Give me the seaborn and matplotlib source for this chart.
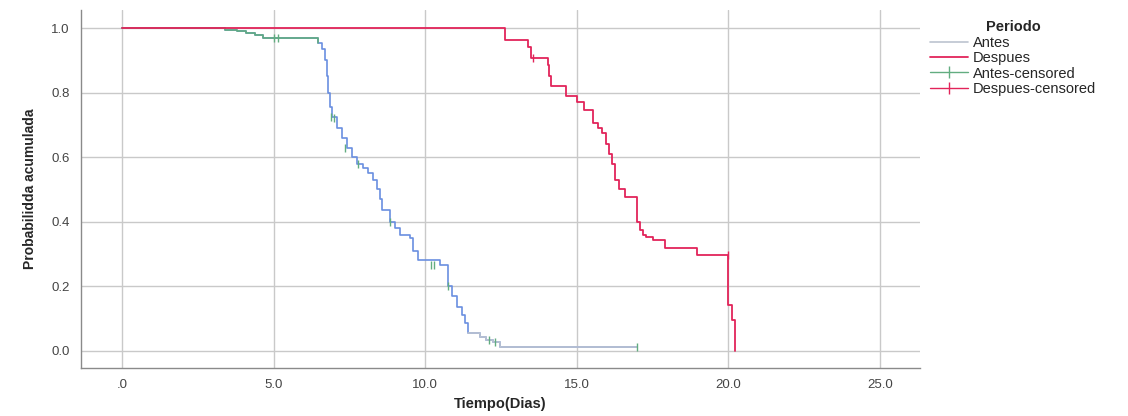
import numpy as np
import matplotlib
matplotlib.use("Agg")
import matplotlib.pyplot as plt
from matplotlib.lines import Line2D
import seaborn as sns

# Kaplan-Meier style curves (time in days, cumulative probability)
antes_t = [0, 3.4, 3.8, 4.1, 4.4, 4.65, 6.45, 6.6, 6.7, 6.75, 6.8, 6.85, 6.93,
           7.09, 7.25, 7.42, 7.6, 7.75, 7.95, 8.1, 8.28, 8.4, 8.5, 8.58, 8.84,
           9.0, 9.17, 9.5, 9.6, 9.76, 10.5, 10.75, 10.9, 11.05, 11.2, 11.3,
           11.4, 11.8, 12.0, 12.24, 12.47, 17.0]
antes_s = [1.0, 0.995, 0.99, 0.985, 0.978, 0.968, 0.955, 0.935, 0.90, 0.85,
           0.80, 0.755, 0.725, 0.69, 0.66, 0.63, 0.60, 0.58, 0.565, 0.55, 0.53,
           0.50, 0.47, 0.437, 0.40, 0.38, 0.36, 0.35, 0.31, 0.28, 0.265, 0.20,
           0.17, 0.136, 0.11, 0.087, 0.056, 0.043, 0.035, 0.028, 0.012, 0.012]

despues_t = [0, 12.63, 13.4, 13.5, 14.05, 14.1, 14.15, 14.65, 15.0, 15.25,
             15.55, 15.7, 15.83, 15.95, 16.05, 16.16, 16.26, 16.4, 16.6, 16.98,
             17.1, 17.2, 17.3, 17.5, 17.9, 18.95, 19.98, 20.12, 20.22]
despues_s = [1.0, 0.963, 0.94, 0.907, 0.885, 0.85, 0.82, 0.79, 0.77, 0.746,
             0.705, 0.69, 0.675, 0.64, 0.61, 0.58, 0.53, 0.50, 0.477, 0.40,
             0.375, 0.36, 0.353, 0.343, 0.32, 0.297, 0.142, 0.096, 0.0]

# censored observations
antes_cens_t = [5.0, 5.15, 6.9, 7.0, 7.35, 7.8, 8.84, 10.2, 10.3, 10.75, 12.1, 12.3, 17.0]
antes_cens_s = [0.968, 0.968, 0.725, 0.72, 0.63, 0.58, 0.40, 0.265, 0.265, 0.20, 0.035, 0.028, 0.012]
despues_cens_t = [13.55, 19.98]
despues_cens_s = [0.907, 0.297]

x_ticks = [0, 5, 10, 15, 20, 25]
x_labels = [".0", "5.0", "10.0", "15.0", "20.0", "25.0"]
y_ticks = [0.0, 0.2, 0.4, 0.6, 0.8, 1.0]
y_labels = ["0.0", "0.2", "0.4", "0.6", "0.8", "1.0"]

red = "#e2245a"
blue = "#6a8fe0"
green = "#62ad80"
grey = "#bcc3d0"

sns.set_style("whitegrid")
plt.rcParams["font.family"] = ["Liberation Sans", "DejaVu Sans"]

fig = plt.figure(figsize=(11.28, 4.16), dpi=100)
ax = fig.add_axes([0.0718, 0.1154, 0.7438, 0.8606])

at = np.array(antes_t)
asv = np.array(antes_s)
sns.lineplot(x=at, y=asv, drawstyle="steps-post", estimator=None, sort=False,
             color=blue, linewidth=1.2, ax=ax)
top = asv >= 0.95
sns.lineplot(x=at[top], y=asv[top], drawstyle="steps-post", estimator=None,
             sort=False, color=green, linewidth=1.2, ax=ax)
tail = asv <= 0.06
sns.lineplot(x=at[tail], y=asv[tail], drawstyle="steps-post", estimator=None,
             sort=False, color=grey, linewidth=1.2, ax=ax)
sns.scatterplot(x=antes_cens_t, y=antes_cens_s, marker="|", s=40, color=green,
                linewidth=1.0, ax=ax, zorder=4)

sns.lineplot(x=despues_t, y=despues_s, drawstyle="steps-post", estimator=None,
             sort=False, color=red, linewidth=1.3, ax=ax, zorder=5)
sns.scatterplot(x=despues_cens_t, y=despues_cens_s, marker="|", s=40, color=red,
                linewidth=1.0, ax=ax, zorder=6)

ax.set_xlim(-1.35, 26.32)
ax.set_ylim(-0.053, 1.056)
ax.set_xticks(x_ticks)
ax.set_xticklabels(x_labels, fontsize=9.5, color="#444444")
ax.set_yticks(y_ticks)
ax.set_yticklabels(y_labels, fontsize=9.5, color="#444444")
ax.tick_params(length=0, pad=8)
ax.grid(True, color="#c9c9c9", linewidth=1.0)
for side in ["top", "right"]:
    ax.spines[side].set_visible(False)
for side in ["left", "bottom"]:
    ax.spines[side].set_color("#8a8a8a")
    ax.spines[side].set_linewidth(1.0)

ax.set_xlabel("Tiempo(Dias)", fontsize=10.5, fontweight="bold", labelpad=4)
ax.set_ylabel("Probabilidda acumulada", fontsize=10, fontweight="bold",
              labelpad=10)

handles = [
    Line2D([], [], color=grey, linewidth=1.2),
    Line2D([], [], color=red, linewidth=1.3),
    Line2D([], [], color=green, linewidth=1.0, marker="|", markersize=8),
    Line2D([], [], color=red, linewidth=1.0, marker="|", markersize=8),
]
labels = ["Antes", "Despues", "Antes-censored", "Despues-censored"]
leg = ax.legend(handles, labels, loc="upper left", bbox_to_anchor=(1.0, 1.0),
                frameon=False, title="Periodo", fontsize=10.5,
                title_fontproperties={"weight": "bold", "size": 10.5},
                handlelength=2.6, handletextpad=0.3, labelspacing=0.1,
                borderaxespad=0.3)

fig.savefig("out.png", dpi=100)
